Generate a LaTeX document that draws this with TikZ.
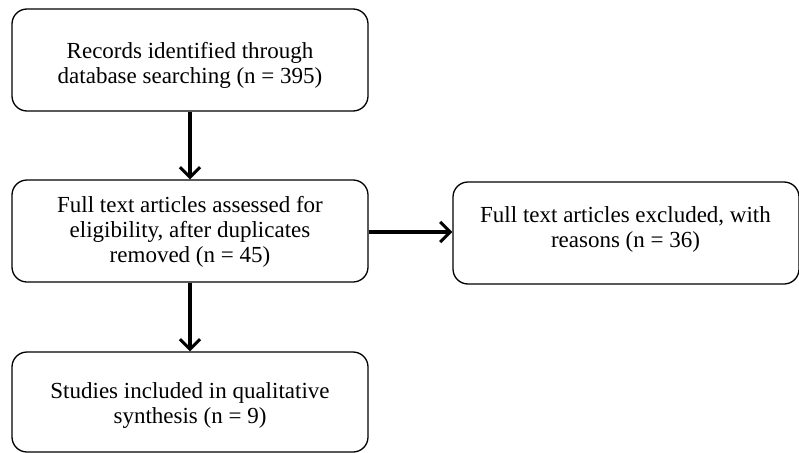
\documentclass[tikz,border=0pt]{standalone}
\usepackage{fontspec}
\setmainfont{Liberation Serif}
\usetikzlibrary{arrows.meta}
\begin{document}
\begin{tikzpicture}[x=1pt,y=-1pt,
  box/.style={draw=black, line width=1.3pt, rounded corners=15pt, fill=white,
    inner sep=0pt},
  txt/.style={align=center, font=\fontsize{23}{25}\selectfont, inner sep=0pt},
  flow/.style={line width=3.2pt, -{Straight Barb[length=10pt,width=20pt,line width=3pt]}}]
\useasboundingbox (0,0) rectangle (799,452);
\fill[white] (0,0) rectangle (799,452);
\node[box, minimum width=356pt, minimum height=102pt] (b1) at (190,60) {};
\node[txt] (t1) at (190,65) {Records identified through\\database searching (n = 395)};
\node[box, minimum width=356pt, minimum height=102pt] (b2) at (190,231) {};
\node[txt] (t2) at (190,232) {Full text articles assessed for\\eligibility, after duplicates\\removed (n = 45)};
\node[box, minimum width=346pt, minimum height=102pt] (b3) at (626,233) {};
\node[txt] (t3) at (625.5,229) {Full text articles excluded, with\\reasons (n = 36)};
\node[box, minimum width=356pt, minimum height=100pt] (b4) at (190,402) {};
\node[txt] (t4) at (190,405) {Studies included in qualitative\\synthesis (n = 9)};
\draw[flow] (b1.south) -- (b2.north);
\draw[flow] (b2.south) -- (b4.north);
\draw[flow] (b2.east |- 0,232) -- (b3.west |- 0,232);
\end{tikzpicture}
\end{document}
